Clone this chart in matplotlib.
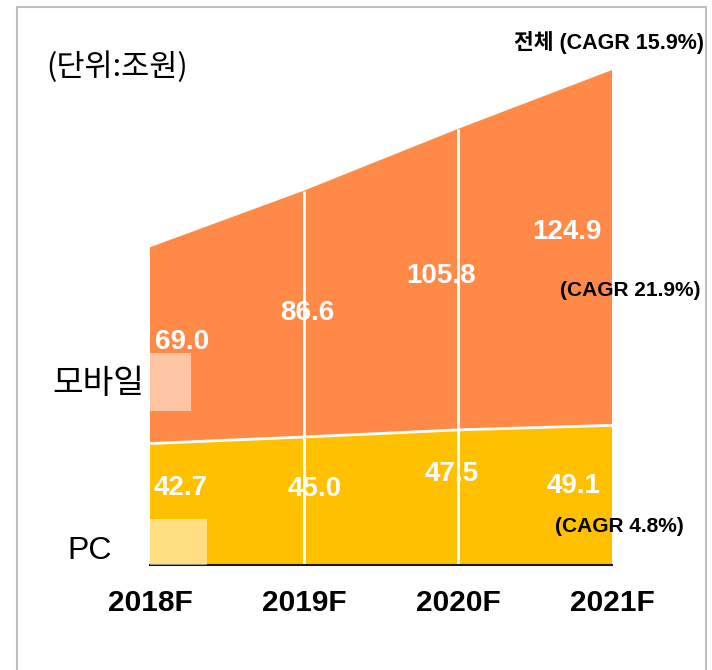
import matplotlib
matplotlib.use("Agg")
import matplotlib.pyplot as plt
from matplotlib.patches import Rectangle
import numpy as np

# ---- data ----
years = ["2018F", "2019F", "2020F", "2021F"]
pc = [42.7, 45.0, 47.5, 49.1]
mobile = [69.0, 86.6, 105.8, 124.9]
pc_labels = ["42.7", "45.0", "47.5", "49.1"]
mobile_labels = ["69.0", "86.6", "105.8", "124.9"]

# label placement (x offset in category units, y in data units)
mobile_label_pos = [(0.21, 78.4), (1.02, 88.6), (1.89, 101.5), (2.71, 117.2)]
pc_label_pos = [(0.20, 27.1), (1.07, 26.6), (1.96, 32.0), (2.75, 27.6)]

ORANGE = "#FF8A48"
YELLOW = "#FFC000"
KFONT = ["Noto Sans CJK KR", "DejaVu Sans"]
AFONT = ["Liberation Sans", "Noto Sans CJK KR", "DejaVu Sans"]

fig = plt.figure(figsize=(7.12, 6.70), dpi=100)
fig.patch.set_facecolor("white")

# outer frame
fig.patches.append(Rectangle((17 / 712, -0.02), (706 - 17) / 712, 1.02 - 7 / 670,
                             transform=fig.transFigure, fill=False,
                             edgecolor="#BFBFBF", linewidth=1.5))

ax = fig.add_axes([150 / 712, 105 / 670, 462 / 712, 495 / 670])
x = np.arange(len(years))
total = np.array(pc) + np.array(mobile)

ax.stackplot(x, pc, mobile, colors=[YELLOW, ORANGE], linewidth=0)
ax.plot(x, pc, color="white", lw=2, zorder=3)
ax.vlines(x[1:3], 0, total[1:3], color="white", lw=2, zorder=3)
ax.plot([x[0], x[-1]], [0, 0], color="#1A1A1A", lw=1.5, zorder=4, clip_on=False)

ax.set_xlim(0, 3)
ax.set_ylim(0, 174)
for s in ax.spines.values():
    s.set_visible(False)
ax.set_yticks([])
ax.set_xticks(x)
ax.set_xticklabels(years, fontsize=21.5, fontweight="bold", family=AFONT)
ax.tick_params(axis="x", length=0, pad=17)

# translucent legend boxes
ax.add_patch(Rectangle((0, 0.311), 0.0887, 0.117, transform=ax.transAxes,
                       facecolor="white", alpha=0.5, edgecolor="none", zorder=5))
ax.add_patch(Rectangle((0, -0.003), 0.123, 0.096, transform=ax.transAxes,
                       facecolor="white", alpha=0.5, edgecolor="none", zorder=5))

# value labels
for (lx, ly), t in zip(mobile_label_pos, mobile_labels):
    ax.text(lx, ly, t, color="white", fontsize=20, fontweight="bold",
            family=AFONT, ha="center", va="center", zorder=2)
for (lx, ly), t in zip(pc_label_pos, pc_labels):
    ax.text(lx, ly, t, color="white", fontsize=20, fontweight="bold",
            family=AFONT, ha="center", va="center", zorder=2)

# annotations
fig.text(117 / 712, 1 - 67 / 670, "(단위:조원)", fontsize=22, family=KFONT,
         fontweight="medium", ha="center", va="center")
fig.text(704 / 712, 1 - 43 / 670, "전체 (CAGR 15.9%)", fontsize=15.5, fontweight="bold",
         family=AFONT, ha="right", va="center")
fig.text(630 / 712, 1 - 291 / 670, "(CAGR 21.9%)", fontsize=15, fontweight="bold",
         family=AFONT, ha="center", va="center", zorder=10)
fig.text(619.5 / 712, 1 - 526 / 670, "(CAGR 4.8%)", fontsize=15, fontweight="bold",
         family=AFONT, ha="center", va="center", zorder=10)
fig.text(144 / 712, 1 - 384 / 670, "모바일", fontsize=24, family=KFONT,
         fontweight="medium", ha="right", va="center")
fig.text(112 / 712, 1 - 551 / 670, "PC", fontsize=23, family=AFONT,
         ha="right", va="center")

fig.savefig("out.png", dpi=100, facecolor="white")
